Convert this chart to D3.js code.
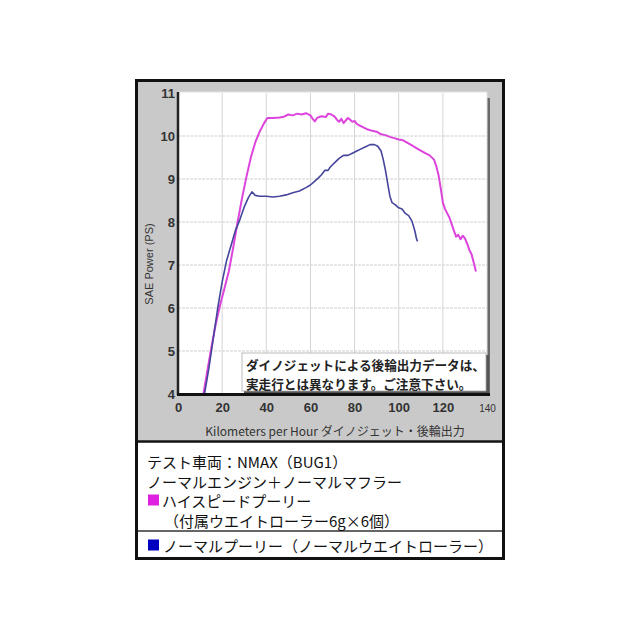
<!DOCTYPE html>
<html>
<head>
<meta charset="utf-8">
<script src="https://cdn.jsdelivr.net/npm/d3@7"></script>
<style>
  body { margin: 0; background: #fff; }
  text { font-family: "Liberation Sans", Arial, sans-serif; }
  .jp { font-family: "Noto Sans CJK JP", "Noto Sans", sans-serif; }
</style>
</head>
<body>
<div id="chart"></div>
<script>
// speed (km/h) and power (PS)
const highSpeedKmh = [11.5,13,15,17,19,21,23,25,27,29,31,33,35,37,39,40.5,43,46,48,50,52,54,56,58,60,61,62,63,65,67,68,69.5,71,72,73,74,75,76,77,78,79,80,81,82,84,86,88,90,92,94,96,98,100,102,104,106,108,110,112,114,116,117,118,119,120,121,122,123,124,125,126,127,128,129,130,131,132,133,134,135];
const highSpeedPs  = [4.0,4.45,5.05,5.6,6.05,6.45,6.85,7.4,8.0,8.55,9.05,9.5,9.85,10.1,10.3,10.42,10.42,10.43,10.45,10.5,10.48,10.52,10.5,10.53,10.48,10.4,10.34,10.42,10.46,10.44,10.52,10.5,10.45,10.38,10.33,10.4,10.3,10.36,10.42,10.38,10.33,10.35,10.28,10.25,10.2,10.15,10.12,10.1,10.04,10.02,9.98,9.95,9.92,9.9,9.84,9.78,9.72,9.66,9.6,9.55,9.45,9.3,9.1,8.8,8.45,8.3,8.2,8.1,7.95,7.8,7.66,7.7,7.6,7.68,7.62,7.5,7.35,7.25,7.05,6.85];

const normalKmh = [12,14,16,18,20,22,24,26,28,30,32,33.5,35,37,40,43,46,49,52,55,58,60,62,63.5,65,66.5,68,69,71,73,75,77,79,81,83,85,87,89,90.5,92,93,94,95,96,97,98.5,100,101.5,103,104.5,106,107,107.5,108,108.5];
const normalPs  = [4.0,4.6,5.3,6.0,6.6,7.1,7.45,7.8,8.05,8.35,8.58,8.7,8.62,8.6,8.6,8.58,8.6,8.63,8.68,8.72,8.8,8.86,8.95,9.02,9.1,9.2,9.2,9.28,9.38,9.48,9.55,9.55,9.6,9.65,9.7,9.75,9.8,9.8,9.76,9.65,9.45,9.2,8.9,8.6,8.45,8.4,8.33,8.3,8.2,8.15,8.02,7.85,7.75,7.62,7.55];

const xTicks = [0,20,40,60,80,100,120,140];
const yTicks = [4,5,6,7,8,9,10,11];

const noteLines = ["ダイノジェットによる後輪出力データは、", "実走行とは異なります。ご注意下さい。"];
const legendLines = ["テスト車両：NMAX（BUG1）", "ノーマルエンジン＋ノーマルマフラー", "ハイスピードプーリー", "（付属ウエイトローラー6g×6個）", "ノーマルプーリー（ノーマルウエイトローラー）"];

var width = 640, height = 640;
var svg = d3.select("#chart").append("svg")
  .attr("width", width).attr("height", height);

// outer panel
svg.append("rect").attr("x", 136.5).attr("y", 80.5).attr("width", 367).attr("height", 360)
  .attr("fill", "#c9c9c9");
svg.append("rect").attr("x", 136.5).attr("y", 441).attr("width", 367).attr("height", 117)
  .attr("fill", "#fff");

var x = d3.scaleLinear().domain([0, 140]).range([178, 487]);
var y = d3.scaleLinear().domain([4, 11]).range([394, 93]);

// plot box with shadow
svg.append("rect").attr("x", 181).attr("y", 98).attr("width", 309).attr("height", 298).attr("fill", "#6a6a6a");
svg.append("rect").attr("x", 178).attr("y", 92).attr("width", 309).attr("height", 302).attr("fill", "#fff")
  .attr("stroke", "#e2e2e2").attr("stroke-width", 1);

var grid = svg.append("g");
grid.selectAll(".vx").data(xTicks.slice(1, -1)).enter().append("line")
  .attr("x1", d => x(d)).attr("x2", d => x(d)).attr("y1", 93).attr("y2", 394)
  .attr("stroke", "#d4d4d4").attr("stroke-width", 1);
grid.selectAll(".hy").data(yTicks.slice(1, -1)).enter().append("line")
  .attr("x1", 178).attr("x2", 487).attr("y1", d => y(d)).attr("y2", d => y(d))
  .attr("stroke", "#cfcfcf").attr("stroke-width", 1).attr("stroke-dasharray", "3,1");

var line = d3.line().x(d => x(d[0])).y(d => y(d[1]));
var normal = normalKmh.map((v, i) => [v, normalPs[i]]);
var highSpeed = highSpeedKmh.map((v, i) => [v, highSpeedPs[i]]);

svg.append("path").datum(highSpeed).attr("d", line)
  .attr("fill", "none").attr("stroke", "#dd44dd").attr("stroke-width", 2).attr("stroke-linejoin", "round");
svg.append("path").datum(normal).attr("d", line)
  .attr("fill", "none").attr("stroke", "#45459c").attr("stroke-width", 1.6).attr("stroke-linejoin", "round");

// note box
svg.append("rect").attr("x", 244).attr("y", 355).attr("width", 245).attr("height", 39).attr("fill", "#555");
svg.append("rect").attr("x", 242).attr("y", 353).attr("width", 244).attr("height", 38).attr("fill", "#fff")
  .attr("stroke", "#aaa").attr("stroke-width", 0.8);
svg.append("g").selectAll("text").data(noteLines).enter().append("text")
  .attr("class", "jp").attr("x", 246).attr("y", (d, i) => 364 + i * 19)
  .attr("dominant-baseline", "central").attr("font-size", 12.6).attr("font-weight", "bold")
  .attr("fill", "#222").text(d => d);

// axis lines
svg.append("line").attr("x1", 178).attr("x2", 178).attr("y1", 92).attr("y2", 395)
  .attr("stroke", "#222").attr("stroke-width", 2.5);
svg.append("line").attr("x1", 177).attr("x2", 490).attr("y1", 394.5).attr("y2", 394.5)
  .attr("stroke", "#111").attr("stroke-width", 3);

// ticks
var xAxis = svg.append("g").attr("transform", "translate(0,397)")
  .call(d3.axisBottom(x).tickValues(xTicks).tickSize(0).tickPadding(6));
xAxis.select(".domain").remove();
xAxis.selectAll("text").attr("font-size", 13).attr("font-weight", "bold").attr("fill", "#333")
  .attr("font-family", "Liberation Sans, Arial, sans-serif");
xAxis.selectAll(".tick").filter(d => d === 140).select("text").attr("font-size", 10).attr("font-weight", "normal").attr("dy", "0.9em");

var yAxis = svg.append("g").attr("transform", "translate(176,0)")
  .call(d3.axisLeft(y).tickValues(yTicks).tickFormat(d3.format("d")).tickSize(0).tickPadding(1));
yAxis.select(".domain").remove();
yAxis.selectAll("text").attr("font-size", 13).attr("font-weight", "bold").attr("fill", "#333")
  .attr("font-family", "Liberation Sans, Arial, sans-serif");

// axis titles
svg.append("text").attr("class", "jp").attr("x", 335).attr("y", 430).attr("text-anchor", "middle")
  .attr("dominant-baseline", "central").attr("font-size", 12).attr("fill", "#333")
  .text("Kilometers per Hour ダイノジェット・後輪出力");
svg.append("text").attr("transform", "translate(149,264) rotate(-90)").attr("text-anchor", "middle")
  .attr("dominant-baseline", "central").attr("font-size", 11).attr("fill", "#333")
  .text("SAE Power (PS)");

// legend
svg.append("line").attr("x1", 136).attr("x2", 504).attr("y1", 441.5).attr("y2", 441.5)
  .attr("stroke", "#111").attr("stroke-width", 2.5);
svg.append("line").attr("x1", 136).attr("x2", 504).attr("y1", 531).attr("y2", 531)
  .attr("stroke", "#666").attr("stroke-width", 2);
var legY = [461, 481, 500, 520, 545];
var legX = [147, 147, 162, 164, 163];
svg.append("g").selectAll("text").data(legendLines).enter().append("text")
  .attr("class", "jp").attr("x", (d, i) => legX[i]).attr("y", (d, i) => legY[i])
  .attr("dominant-baseline", "central").attr("font-size", 15).attr("fill", "#111")
  .text(d => d);
svg.append("rect").attr("x", 148).attr("y", 494.5).attr("width", 11).attr("height", 11).attr("fill", "#e020e0");
svg.append("rect").attr("x", 148).attr("y", 539.5).attr("width", 11).attr("height", 11).attr("fill", "#0000c0");

// outer border
svg.append("rect").attr("x", 136.5).attr("y", 80.5).attr("width", 367).attr("height", 478)
  .attr("fill", "none").attr("stroke", "#111").attr("stroke-width", 3);
</script>
</body>
</html>
